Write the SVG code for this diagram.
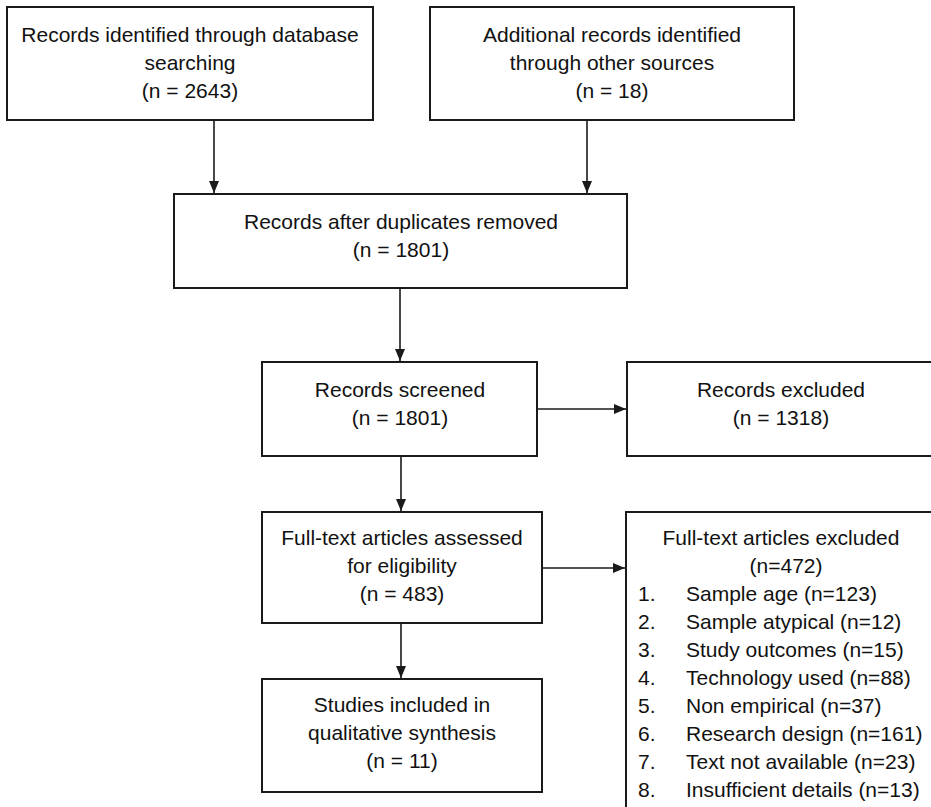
<svg xmlns="http://www.w3.org/2000/svg" width="931" height="807" viewBox="0 0 931 807">
<style>
.box{fill:#ffffff;stroke:#1a1a1a;stroke-width:2}
.t{font-family:"Liberation Sans",Arial,sans-serif;font-size:21px;fill:#111111;text-anchor:middle}
.l{font-family:"Liberation Sans",Arial,sans-serif;font-size:21px;fill:#111111}
.c{fill:none;stroke:#1a1a1a;stroke-width:1.6}
</style>
<defs>
<marker id="ah" markerUnits="userSpaceOnUse" markerWidth="12" markerHeight="12" viewBox="0 0 12 12" refX="12" refY="6" orient="auto">
<path d="M0,1 L12,6 L0,11 z" fill="#1a1a1a"/>
</marker>
</defs>
<rect width="931" height="807" fill="#ffffff"/>
<g id="connectors">
<line class="c" x1="214" y1="120" x2="214" y2="193" marker-end="url(#ah)"/>
<line class="c" x1="587" y1="120" x2="587" y2="193" marker-end="url(#ah)"/>
<line class="c" x1="400" y1="288" x2="400" y2="361" marker-end="url(#ah)"/>
<line class="c" x1="537" y1="409" x2="626" y2="409" marker-end="url(#ah)"/>
<line class="c" x1="401" y1="456" x2="401" y2="511" marker-end="url(#ah)"/>
<line class="c" x1="542" y1="568" x2="625" y2="568" marker-end="url(#ah)"/>
<line class="c" x1="401" y1="623" x2="401" y2="678" marker-end="url(#ah)"/>
</g>
<g id="db">
<rect class="box" x="7" y="7" width="366" height="113"/>
<text class="t" x="190" y="42">Records identified through database</text>
<text class="t" x="190" y="70">searching</text>
<text class="t" x="190" y="98">(n = 2643)</text>
</g>
<g id="other">
<rect class="box" x="430" y="7" width="364" height="113"/>
<text class="t" x="612" y="42">Additional records identified</text>
<text class="t" x="612" y="70">through other sources</text>
<text class="t" x="612" y="98">(n = 18)</text>
</g>
<g id="dups">
<rect class="box" x="174" y="194" width="453" height="94"/>
<text class="t" x="401" y="229">Records after duplicates removed</text>
<text class="t" x="401" y="257">(n = 1801)</text>
</g>
<g id="screened">
<rect class="box" x="262" y="362" width="275" height="94"/>
<text class="t" x="400" y="397">Records screened</text>
<text class="t" x="400" y="425">(n = 1801)</text>
</g>
<g id="excluded">
<rect class="box" x="627" y="362" width="310" height="94"/>
<text class="t" x="781" y="397">Records excluded</text>
<text class="t" x="781" y="425">(n = 1318)</text>
</g>
<g id="fulltext">
<rect class="box" x="262" y="512" width="280" height="111"/>
<text class="t" x="402" y="545">Full-text articles assessed</text>
<text class="t" x="402" y="573">for eligibility</text>
<text class="t" x="402" y="601">(n = 483)</text>
</g>
<g id="ftexcluded">
<rect class="box" x="626" y="512" width="320" height="310"/>
<text class="t" x="781" y="545">Full-text articles excluded</text>
<text class="t" x="786" y="573">(n=472)</text>
<text class="l" x="638" y="601">1.</text><text class="l" x="686" y="601">Sample age (n=123)</text>
<text class="l" x="638" y="629">2.</text><text class="l" x="686" y="629">Sample atypical (n=12)</text>
<text class="l" x="638" y="657">3.</text><text class="l" x="686" y="657">Study outcomes (n=15)</text>
<text class="l" x="638" y="685">4.</text><text class="l" x="686" y="685">Technology used (n=88)</text>
<text class="l" x="638" y="713">5.</text><text class="l" x="686" y="713">Non empirical (n=37)</text>
<text class="l" x="638" y="741">6.</text><text class="l" x="686" y="741">Research design (n=161)</text>
<text class="l" x="638" y="769">7.</text><text class="l" x="686" y="769">Text not available (n=23)</text>
<text class="l" x="638" y="797">8.</text><text class="l" x="686" y="797">Insufficient details (n=13)</text>
</g>
<g id="included">
<rect class="box" x="262" y="679" width="280" height="113"/>
<text class="t" x="402" y="712">Studies included in</text>
<text class="t" x="402" y="740">qualitative synthesis</text>
<text class="t" x="402" y="768">(n = 11)</text>
</g>
</svg>
